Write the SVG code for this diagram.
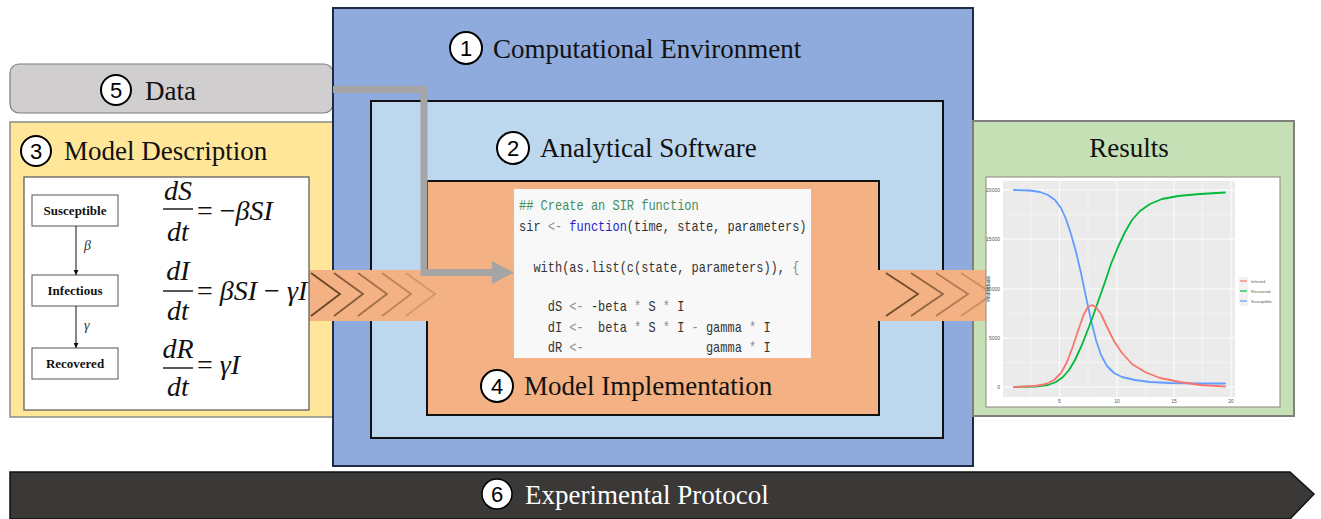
<svg xmlns="http://www.w3.org/2000/svg" width="1321" height="519" viewBox="0 0 1321 519">
<style>
.title{font-family:"Liberation Serif","Times New Roman",serif;font-size:27px;fill:#111}
.num{font-family:"Liberation Sans",Arial,sans-serif;font-size:22px;fill:#000;text-anchor:middle}
.circ{fill:#fff;stroke:#000;stroke-width:2}
.code{font-family:"Liberation Mono","DejaVu Sans Mono",monospace;font-size:14px;fill:#333;white-space:pre}
.op{fill:#8a8a8a}
.sir{font-family:"Liberation Serif","Times New Roman",serif;font-size:13px;font-weight:bold;fill:#111;text-anchor:middle}
.sbox{fill:#fff;stroke:#555;stroke-width:1}
.eq{font-family:"Liberation Serif","Times New Roman",serif;font-size:28px;font-style:italic;fill:#111}
.up{font-style:normal}
.fr{stroke:#111;stroke-width:1.4}
.tick{font-family:"Liberation Sans",Arial,sans-serif;font-size:5px;fill:#555}
.leg{font-family:"Liberation Sans",Arial,sans-serif;font-size:4px;fill:#555}
.gmaj{stroke:#fff;stroke-width:0.9}
.gmin{stroke:#fff;stroke-width:0.4}
.curve{fill:none;stroke-width:1.8;stroke-linejoin:round;stroke-linecap:round}
</style>
<defs>
<marker id="ah" viewBox="0 0 10 10" refX="10" refY="5" markerWidth="5" markerHeight="5" orient="auto">
<path d="M0,0 L10,5 L0,10 z" fill="#111"/>
</marker>
</defs>

<g id="model-description">
<rect x="10" y="122" width="325" height="295" fill="#ffe699" stroke="#8a8a8a" stroke-width="1.5"/>
<circle class="circ" cx="36" cy="151" r="15"/>
<text class="num" x="36" y="159">3</text>
<text class="title" x="64" y="160">Model Description</text>
</g>

<g id="data">
<rect x="10" y="64" width="323" height="49" rx="9" fill="#d0cece" stroke="#7f7f7f" stroke-width="1.2"/>
<circle class="circ" cx="116" cy="90" r="15"/>
<text class="num" x="116" y="98">5</text>
<text class="title" x="145" y="100">Data</text>
</g>

<g id="computational-environment">
<rect x="333" y="8" width="640" height="458" fill="#8faadc" stroke="#1f2a44" stroke-width="2"/>
<circle class="circ" cx="466" cy="48" r="16"/>
<text class="num" x="466" y="56">1</text>
<text class="title" x="493" y="58">Computational Environment</text>
</g>

<g id="analytical-software">
<rect x="371" y="101" width="572" height="337" fill="#bdd7ee" stroke="#111" stroke-width="2"/>
<circle class="circ" cx="513" cy="148" r="16"/>
<text class="num" x="513" y="156">2</text>
<text class="title" x="540" y="157">Analytical Software</text>
</g>

<g id="results">
<rect x="973" y="121" width="321" height="295" fill="#c5e0b4" stroke="#7f7f7f" stroke-width="2"/>
<text class="title" x="1129" y="157" text-anchor="middle">Results</text>
</g>

<g id="model-implementation">
<rect x="427" y="181" width="452" height="234" fill="#f4b183" stroke="#111" stroke-width="2"/>
<circle class="circ" cx="497" cy="386" r="16"/>
<text class="num" x="497" y="394">4</text>
<text class="title" x="524" y="395">Model Implementation</text>
</g>

<g id="connectors">
<g id="band-left">
<rect x="309" y="270" width="120" height="51" fill="#f4b183"/>
<g fill="none" stroke="#5a3a1e" stroke-width="1.8">
<polyline points="311,273 340,294 311,316" stroke-opacity="0.9"/>
<polyline points="334,273 363,294 334,316" stroke-opacity="0.72"/>
<polyline points="358,273 387,294 358,316" stroke-opacity="0.55"/>
<polyline points="382,273 411,294 382,316" stroke-opacity="0.38"/>
<polyline points="406,273 435,294 406,316" stroke-opacity="0.22"/>
</g>
</g>
<g id="band-right">
<rect x="877" y="270" width="112" height="51" fill="#f4b183"/>
<g fill="none" stroke="#5a3a1e" stroke-width="1.8">
<polyline points="886,273 918,294 886,316" stroke-opacity="0.85"/>
<polyline points="911,273 943,294 911,316" stroke-opacity="0.65"/>
<polyline points="936,273 968,294 936,316" stroke-opacity="0.45"/>
<polyline points="961,273 993,294 961,316" stroke-opacity="0.28"/>
</g>
</g>
<polyline points="333,89.5 424,89.5 424,272.5 494,272.5" fill="none" stroke="#a5a5a5" stroke-width="7"/>
<polygon points="492,261 514,272.5 492,284" fill="#a5a5a5"/>
</g>

<g id="sir-diagram">
<rect x="24" y="177" width="285" height="233" fill="#fff" stroke="#555" stroke-width="1.2"/>
<rect class="sbox" x="32" y="195" width="86" height="31"/>
<text class="sir" x="75" y="215">Susceptible</text>
<rect class="sbox" x="32" y="275" width="86" height="31"/>
<text class="sir" x="75" y="295">Infectious</text>
<rect class="sbox" x="32" y="348" width="86" height="31"/>
<text class="sir" x="75" y="368">Recovered</text>
<line x1="76" y1="226" x2="76" y2="275" stroke="#111" stroke-width="1" marker-end="url(#ah)"/>
<line x1="76" y1="306" x2="76" y2="348" stroke="#111" stroke-width="1" marker-end="url(#ah)"/>
<text x="84" y="250" font-family="Liberation Serif,serif" font-style="italic" font-size="14" fill="#333">β</text>
<text x="84" y="330" font-family="Liberation Serif,serif" font-style="italic" font-size="14" fill="#333">γ</text>
<text class="eq" x="178" y="200" text-anchor="middle">dS</text>
<line class="fr" x1="163" y1="209" x2="193" y2="209"/>
<text class="eq" x="178" y="241" text-anchor="middle">dt</text>
<text class="eq" x="197" y="220"><tspan class="up">= −</tspan>βSI</text>
<text class="eq" x="178" y="280" text-anchor="middle">dI</text>
<line class="fr" x1="163" y1="291" x2="193" y2="291"/>
<text class="eq" x="178" y="320" text-anchor="middle">dt</text>
<text class="eq" x="197" y="300"><tspan class="up">= </tspan>βSI<tspan class="up"> − </tspan>γI</text>
<text class="eq" x="178" y="358" text-anchor="middle">dR</text>
<line class="fr" x1="163" y1="368" x2="193" y2="368"/>
<text class="eq" x="178" y="396" text-anchor="middle">dt</text>
<text class="eq" x="197" y="374"><tspan class="up">= </tspan>γI</text>
</g>

<g id="code">
<rect x="514" y="189" width="297" height="169" fill="#f8f8f8"/>
<g transform="translate(519,0) scale(0.857,1)">
<text class="code" x="0" y="210" style="fill:#3f8f5f">## Create an SIR function</text>
<text class="code" x="0" y="231" xml:space="preserve">sir <tspan class="op">&lt;-</tspan> <tspan style="fill:#1f1fd0">function</tspan>(time, state, parameters)</text>
<text class="code" x="0" y="272" xml:space="preserve">  with(as.list(c(state, parameters)), <tspan class="op">{</tspan></text>
<text class="code" x="0" y="311" xml:space="preserve">    dS <tspan class="op">&lt;-</tspan> -beta <tspan class="op">*</tspan> S <tspan class="op">*</tspan> I</text>
<text class="code" x="0" y="332" xml:space="preserve">    dI <tspan class="op">&lt;-</tspan>  beta <tspan class="op">*</tspan> S <tspan class="op">*</tspan> I <tspan class="op">-</tspan> gamma <tspan class="op">*</tspan> I</text>
<text class="code" x="0" y="352" xml:space="preserve">    dR <tspan class="op">&lt;-</tspan>                 gamma <tspan class="op">*</tspan> I</text>
</g>
</g>

<g id="plot">
<rect x="986" y="177" width="294" height="230" fill="#fff" stroke="#8a8a8a" stroke-width="1"/>
<rect x="1003" y="181" width="232" height="216" fill="#ebebeb"/>
<g class="gmin">
<line x1="1003" y1="214.5" x2="1235" y2="214.5"/>
<line x1="1003" y1="264" x2="1235" y2="264"/>
<line x1="1003" y1="313.5" x2="1235" y2="313.5"/>
<line x1="1003" y1="362.5" x2="1235" y2="362.5"/>
<line x1="1031" y1="181" x2="1031" y2="397"/>
<line x1="1088" y1="181" x2="1088" y2="397"/>
<line x1="1145.5" y1="181" x2="1145.5" y2="397"/>
<line x1="1202.5" y1="181" x2="1202.5" y2="397"/>
</g>
<g class="gmaj">
<line x1="1003" y1="190" x2="1235" y2="190"/>
<line x1="1003" y1="239" x2="1235" y2="239"/>
<line x1="1003" y1="289" x2="1235" y2="289"/>
<line x1="1003" y1="338" x2="1235" y2="338"/>
<line x1="1003" y1="387" x2="1235" y2="387"/>
<line x1="1059.5" y1="181" x2="1059.5" y2="397"/>
<line x1="1117" y1="181" x2="1117" y2="397"/>
<line x1="1174" y1="181" x2="1174" y2="397"/>
<line x1="1231" y1="181" x2="1231" y2="397"/>
</g>
<g class="tick" text-anchor="end">
<text x="1000" y="192">20000</text>
<text x="1000" y="241">15000</text>
<text x="1000" y="291">10000</text>
<text x="1000" y="340">5000</text>
<text x="1000" y="389">0</text>
</g>
<g class="tick" text-anchor="middle">
<text x="1059.5" y="403">5</text>
<text x="1117" y="403">10</text>
<text x="1174" y="403">15</text>
<text x="1231" y="403">20</text>
</g>
<text class="tick" transform="translate(990,289) rotate(-90)" text-anchor="middle" style="fill:#333">#individuals</text>
<polyline class="curve" stroke="#619cff" points="1014,190 1030,190.5 1040,192 1048,195 1055,200 1061,208 1066,219 1071,234 1076,252 1081,273 1086,297 1091,320 1096,340 1101,355 1107,366 1114,373 1122,377 1135,380 1150,382 1170,383 1200,383.5 1225,383.5"/>
<polyline class="curve" stroke="#00ba38" points="1014,387 1035,386.5 1048,385 1056,382 1063,377 1069,370 1075,360 1081,347 1087,332 1093,316 1099,299 1105,282 1111,264 1118,247 1125,232 1132,220 1140,211 1150,204 1162,199 1178,196 1200,194 1225,192.5"/>
<polyline class="curve" stroke="#f8766d" points="1014,387 1035,386 1046,384 1054,380 1061,373 1067,362 1073,346 1079,328 1084,314 1088,307 1092,305 1096,307 1101,314 1107,327 1114,341 1122,353 1132,364 1145,372 1160,378 1180,382 1200,385 1225,386.5"/>
<g>
<rect x="1239" y="277" width="9" height="29" fill="#f2f2f2"/>
<line x1="1240" y1="281" x2="1247" y2="281" stroke="#f8766d" stroke-width="1.2"/>
<line x1="1240" y1="291" x2="1247" y2="291" stroke="#00ba38" stroke-width="1.2"/>
<line x1="1240" y1="301" x2="1247" y2="301" stroke="#619cff" stroke-width="1.2"/>
<text class="leg" x="1251" y="283">Infected</text>
<text class="leg" x="1251" y="293">Recovered</text>
<text class="leg" x="1251" y="303">Susceptible</text>
</g>
</g>

<g id="experimental-protocol">
<polygon points="10,472 1290,472 1314,494 1290,519 10,519" fill="#3b3838" stroke="#111" stroke-width="1.5"/>
<circle cx="497" cy="494" r="15" fill="#fff" stroke="#000" stroke-width="1.5"/>
<text class="num" x="497" y="502">6</text>
<text class="title" x="525" y="504" style="fill:#fff">Experimental Protocol</text>
</g>
</svg>
